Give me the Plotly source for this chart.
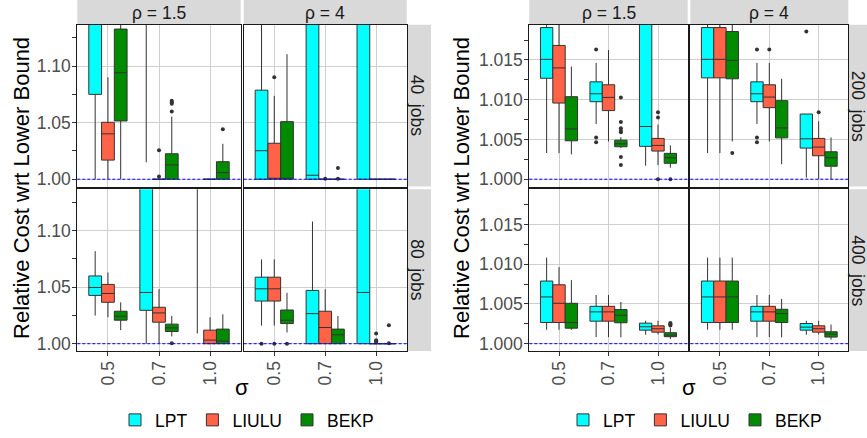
import plotly.graph_objects as go

# ---------------- data ----------------
SIGMA = ["0.5", "0.7", "1.0"]
ALGOS = ["LPT", "LIULU", "BEKP"]
COLORS = {"LPT": "#00FFFF", "LIULU": "#FF6347", "BEKP": "#008B00"}
RHO_LABELS = ["ρ = 1.5", "ρ = 4"]
JOBS_LEFT = ["40", "80"]
JOBS_RIGHT = ["200", "400"]
LOWER_BOUND = 1.0

# five-number summaries per sigma: (lower whisker, q1, median, q3, upper whisker)
# ---- 40 jobs, rho = 1.5
J40_R15_LPT = [(1.000, 1.075, 1.160, 1.220, 1.300), (1.015, 1.150, 1.200, 1.250, 1.300), (1.150, 1.180, 1.220, 1.260, 1.300)]
J40_R15_LIULU = [(1.000, 1.0169, 1.0401, 1.0503, 1.0901), (1.000, 1.000, 1.000, 1.000, 1.000), (1.000, 1.000, 1.000, 1.000, 1.000)]
J40_R15_BEKP = [(1.000, 1.0515, 1.0941, 1.1327, 1.200), (1.000, 1.000, 1.0126, 1.0225, 1.0553), (1.000, 1.000, 1.0059, 1.0155, 1.0313)]
J40_R15_LPT_OUT = [[], [], []]
J40_R15_LIULU_OUT = [[], [1.0023, 1.0257], []]
J40_R15_BEKP_OUT = [[], [1.0599, 1.0667, 1.0681, 1.0693], [1.0441]]
# ---- 40 jobs, rho = 4
J40_R4_LPT = [(1.000, 1.000, 1.0252, 1.0787, 1.200), (1.000, 1.000, 1.0035, 1.200, 1.300), (1.000, 1.000, 1.160, 1.220, 1.300)]
J40_R4_LIULU = [(1.000, 1.000, 1.000, 1.0318, 1.0737), (1.000, 1.000, 1.000, 1.000, 1.000), (1.000, 1.000, 1.000, 1.000, 1.000)]
J40_R4_BEKP = [(1.000, 1.000, 1.000, 1.0509, 1.1105), (1.000, 1.000, 1.000, 1.000, 1.000), (1.000, 1.000, 1.000, 1.000, 1.000)]
J40_R4_LPT_OUT = [[], [], []]
J40_R4_LIULU_OUT = [[1.0901], [1.0004], []]
J40_R4_BEKP_OUT = [[], [1.0004, 1.0099], []]
# ---- 80 jobs, rho = 1.5
J80_R15_LPT = [(1.0248, 1.0427, 1.0497, 1.0599, 1.0818), (1.000, 1.0295, 1.0453, 1.200, 1.300), (1.009, 1.150, 1.200, 1.250, 1.300)]
J80_R15_LIULU = [(1.0234, 1.0366, 1.0444, 1.0524, 1.0629), (1.000, 1.019, 1.0272, 1.0322, 1.0482), (1.000, 1.000, 1.0032, 1.012, 1.0234)]
J80_R15_BEKP = [(1.012, 1.0208, 1.0243, 1.0287, 1.0366), (1.0064, 1.0108, 1.014, 1.0173, 1.0246), (1.000, 1.000, 1.0023, 1.0129, 1.026)]
J80_R15_LPT_OUT = [[], [], []]
J80_R15_LIULU_OUT = [[], [], []]
J80_R15_BEKP_OUT = [[], [1.0003], []]
# ---- 80 jobs, rho = 4
J80_R4_LPT = [(1.016, 1.0377, 1.0485, 1.0588, 1.0745), (1.000, 1.000, 1.0266, 1.0471, 1.108), (1.000, 1.000, 1.0453, 1.200, 1.300)]
J80_R4_LIULU = [(1.016, 1.0377, 1.0485, 1.0588, 1.0745), (1.000, 1.000, 1.0143, 1.0287, 1.0482), (1.000, 1.000, 1.000, 1.000, 1.000)]
J80_R4_BEKP = [(1.0099, 1.0178, 1.0207, 1.0298, 1.045), (1.000, 1.000, 1.0079, 1.0129, 1.0246), (1.000, 1.000, 1.000, 1.000, 1.000)]
J80_R4_LPT_OUT = [[1.000], [], []]
J80_R4_LIULU_OUT = [[1.000], [], [1.0015, 1.002, 1.003, 1.009]]
J80_R4_BEKP_OUT = [[1.000], [], [1.0004, 1.0164]]
# ---- 200 jobs, rho = 1.5
J200_R15_LPT = [(1.00329, 1.0127, 1.01508, 1.01908, 1.025), (1.00695, 1.00975, 1.01075, 1.01225, 1.01463), (1.0017, 1.00413, 1.00663, 1.025, 1.030)]
J200_R15_LIULU = [(1.00329, 1.00958, 1.014, 1.01683, 1.025), (1.00475, 1.00863, 1.01029, 1.01188, 1.01625), (1.00179, 1.00354, 1.00425, 1.00513, 1.00688)]
J200_R15_BEKP = [(1.00313, 1.00483, 1.00633, 1.01038, 1.01416), (1.0039, 1.00408, 1.00445, 1.00491, 1.0053), (1.00145, 1.002, 1.0027, 1.00325, 1.00425)]
J200_R15_LPT_OUT = [[], [1.00466, 1.00525, 1.01633], []]
J200_R15_LIULU_OUT = [[], [], [1.000, 1.00775, 1.00841]]
J200_R15_BEKP_OUT = [[], [1.00179, 1.00279, 1.0059, 1.0061, 1.0064, 1.0072, 1.01029], [1.000]]
# ---- 200 jobs, rho = 4
J200_R4_LPT = [(1.00329, 1.01275, 1.01508, 1.01908, 1.025), (1.00695, 1.00975, 1.01075, 1.01225, 1.01463), (1.0002, 1.00391, 1.00508, 1.0082, 1.0082)]
J200_R4_LIULU = [(1.00329, 1.01275, 1.01508, 1.01908, 1.025), (1.00475, 1.009, 1.01033, 1.01188, 1.01463), (1.000, 1.00295, 1.00404, 1.00513, 1.00729)]
J200_R4_BEKP = [(1.00475, 1.01263, 1.01495, 1.01858, 1.025), (1.00188, 1.0052, 1.00645, 1.00988, 1.01263), (1.000, 1.00163, 1.0027, 1.00345, 1.00525)]
J200_R4_LPT_OUT = [[], [1.00466, 1.00525, 1.01633], [1.01858]]
J200_R4_LIULU_OUT = [[], [1.01633], [1.00841]]
J200_R4_BEKP_OUT = [[1.00329], [], []]
# ---- 400 jobs, rho = 1.5
J400_R15_LPT = [(1.00175, 1.00266, 1.00588, 1.00788, 1.01083), (1.00083, 1.00283, 1.004, 1.0047, 1.00613), (1.00113, 1.0017, 1.00213, 1.00258, 1.00288)]
J400_R15_LIULU = [(1.00175, 1.00266, 1.00508, 1.00741, 1.00963), (1.00083, 1.00283, 1.004, 1.0047, 1.00613), (1.00117, 1.00145, 1.00188, 1.00225, 1.00288)]
J400_R15_BEKP = [(1.00175, 1.00195, 1.00266, 1.00508, 1.008), (1.00079, 1.00263, 1.00358, 1.00429, 1.00525), (1.00058, 1.00088, 1.00108, 1.00138, 1.002)]
J400_R15_LPT_OUT = [[], [], []]
J400_R15_LIULU_OUT = [[], [], []]
J400_R15_BEKP_OUT = [[], [], [1.0023, 1.0024, 1.0025, 1.0026]]
# ---- 400 jobs, rho = 4
J400_R4_LPT = [(1.00175, 1.00266, 1.00588, 1.00788, 1.01083), (1.00083, 1.00283, 1.004, 1.0047, 1.00613), (1.00113, 1.0017, 1.00208, 1.00254, 1.00288)]
J400_R4_LIULU = [(1.00175, 1.00266, 1.00588, 1.00788, 1.01083), (1.00083, 1.00283, 1.004, 1.0047, 1.00613), (1.00117, 1.00145, 1.00188, 1.00225, 1.00288)]
J400_R4_BEKP = [(1.00175, 1.00266, 1.00588, 1.00788, 1.01083), (1.00079, 1.00266, 1.00379, 1.00433, 1.00563), (1.0005, 1.00083, 1.0012, 1.0015, 1.00241)]
J400_R4_LPT_OUT = [[], [], []]
J400_R4_LIULU_OUT = [[], [], []]
J400_R4_BEKP_OUT = [[], [], []]

# ---------------- layout helpers ----------------
W, H = 867, 438
FONT = "Liberation Sans, Arial, Helvetica, sans-serif"
TICK_GREY = "#4D4D4D"
STRIP_FILL = "#D9D9D9"
GRID = "#CFCFCF"


def fx(p):
    return p / W


def fy(p):
    return 1 - p / H


ROWS = [(25.0, 188.3), (191.0, 354.3)]
CHARTS = [
    dict(name="left", cols=[(77.3, 240.7), (243.7, 406.7)], yrange=[0.9935, 1.1365], dtick=0.05,
         fmt=".2f", minor=0.025, jobs=JOBS_LEFT, ytitle_x=22, legend="legend", legend_x=247,
         strip_r=(407.5, 431.0), strip_text_x=417,
         data={(0, 0): (J40_R15_LPT, J40_R15_LIULU, J40_R15_BEKP, J40_R15_LPT_OUT, J40_R15_LIULU_OUT, J40_R15_BEKP_OUT),
               (0, 1): (J40_R4_LPT, J40_R4_LIULU, J40_R4_BEKP, J40_R4_LPT_OUT, J40_R4_LIULU_OUT, J40_R4_BEKP_OUT),
               (1, 0): (J80_R15_LPT, J80_R15_LIULU, J80_R15_BEKP, J80_R15_LPT_OUT, J80_R15_LIULU_OUT, J80_R15_BEKP_OUT),
               (1, 1): (J80_R4_LPT, J80_R4_LIULU, J80_R4_BEKP, J80_R4_LPT_OUT, J80_R4_LIULU_OUT, J80_R4_BEKP_OUT)}),
    dict(name="right", cols=[(529.3, 687.7), (690.3, 848.3)], yrange=[0.99907, 1.01943], dtick=0.005,
         fmt=".3f", minor=0.0025, jobs=JOBS_RIGHT, ytitle_x=462, legend="legend2", legend_x=695,
         strip_r=(849.0, 867.0), strip_text_x=858,
         data={(0, 0): (J200_R15_LPT, J200_R15_LIULU, J200_R15_BEKP, J200_R15_LPT_OUT, J200_R15_LIULU_OUT, J200_R15_BEKP_OUT),
               (0, 1): (J200_R4_LPT, J200_R4_LIULU, J200_R4_BEKP, J200_R4_LPT_OUT, J200_R4_LIULU_OUT, J200_R4_BEKP_OUT),
               (1, 0): (J400_R15_LPT, J400_R15_LIULU, J400_R15_BEKP, J400_R15_LPT_OUT, J400_R15_LIULU_OUT, J400_R15_BEKP_OUT),
               (1, 1): (J400_R4_LPT, J400_R4_LIULU, J400_R4_BEKP, J400_R4_LPT_OUT, J400_R4_LIULU_OUT, J400_R4_BEKP_OUT)}),
]

fig = go.Figure()
layout = dict(shapes=[], annotations=[])
n = 0
for chart in CHARTS:
    for r, (rt, rb) in enumerate(ROWS):
        for c, (cl, cr) in enumerate(chart["cols"]):
            n += 1
            sfx = "" if n == 1 else str(n)
            xa, ya = "x" + sfx, "y" + sfx
            stats = chart["data"][(r, c)]
            for k, algo in enumerate(ALGOS):
                five = stats[k]
                outs = stats[k + 3]
                # every box carries its median as a (hidden, inside-whisker) sample so that
                # no sample row is empty; only points beyond the whiskers are drawn
                samples = [[s[2]] + list(o) for s, o in zip(five, outs)]
                fig.add_trace(go.Box(
                    x=SIGMA,
                    lowerfence=[s[0] for s in five], q1=[s[1] for s in five], median=[s[2] for s in five],
                    q3=[s[3] for s in five], upperfence=[s[4] for s in five],
                    y=samples, orientation="v",
                    name=algo, legendgroup=chart["name"] + algo, legend=chart["legend"],
                    showlegend=(r == 0 and c == 0),
                    alignmentgroup="panel" + str(n), offsetgroup=algo,
                    fillcolor=COLORS[algo], line=dict(color="#333333", width=1),
                    marker=dict(color="#333333", size=4, line=dict(width=0)),
                    boxpoints="outliers", pointpos=0, jitter=0, whiskerwidth=0,
                    xaxis=xa, yaxis=ya, hoverinfo="skip",
                ))
            layout["xaxis" + sfx] = dict(
                domain=[fx(cl), fx(cr)], anchor=ya, type="category", categoryorder="array",
                categoryarray=SIGMA, range=[-0.6, 2.6], showgrid=True, gridcolor=GRID, gridwidth=1,
                zeroline=False, showline=True, mirror=True, linecolor="#1A1A1A", linewidth=1,
                ticks="outside" if r == 1 else "", ticklen=4, tickcolor="#333333",
                showticklabels=(r == 1), tickangle=-90, ticklabelstandoff=-2,
                tickfont=dict(family=FONT, size=17.5, color=TICK_GREY),
            )
            layout["yaxis" + sfx] = dict(
                domain=[fy(rb), fy(rt)], anchor=xa, range=chart["yrange"], tick0=1.0,
                dtick=chart["dtick"], tickformat=chart["fmt"], showgrid=True, gridcolor=GRID,
                gridwidth=1, zeroline=False, showline=True, mirror=True, linecolor="#1A1A1A",
                linewidth=1, ticks="outside" if c == 0 else "", ticklen=4, tickcolor="#333333",
                showticklabels=(c == 0), ticklabelstandoff=-2,
                tickfont=dict(family=FONT, size=17.5, color=TICK_GREY),
                minor=dict(ticks="outside" if c == 0 else "", ticklen=4, tickcolor="#333333",
                           dtick=chart["minor"], tick0=1.0, showgrid=False),
            )
            # lower-bound reference line
            layout["shapes"].append(dict(
                type="line", xref=f"{xa} domain", x0=0, x1=1, yref=ya, y0=LOWER_BOUND, y1=LOWER_BOUND,
                line=dict(color="#0000FF", width=1, dash="3px,2px"), layer="above"))
            # top strips
            if r == 0:
                layout["shapes"].append(dict(type="rect", xref="paper", yref="paper", x0=fx(cl), x1=fx(cr),
                                             y0=fy(24.5), y1=fy(0), fillcolor=STRIP_FILL, line=dict(width=0),
                                             layer="below"))
                layout["annotations"].append(dict(
                    text=RHO_LABELS[c], xref="paper", yref="paper", x=fx((cl + cr) / 2), y=fy(13),
                    showarrow=False, xanchor="center", yanchor="middle",
                    font=dict(family=FONT, size=17.5, color="#1A1A1A")))
        # right strips
        s0, s1 = chart["strip_r"]
        layout["shapes"].append(dict(type="rect", xref="paper", yref="paper", x0=fx(s0), x1=fx(s1),
                                     y0=fy(rb), y1=fy(rt), fillcolor=STRIP_FILL, line=dict(width=0),
                                     layer="below"))
        layout["annotations"].append(dict(
            text=chart["jobs"][r] + "\u00a0 jobs", xref="paper", yref="paper",
            x=fx(chart["strip_text_x"]), y=fy((rt + rb) / 2), showarrow=False, textangle=90,
            xanchor="center", yanchor="middle", font=dict(family=FONT, size=17.5, color="#1A1A1A")))
    # axis titles
    cl0, cr1 = chart["cols"][0][0], chart["cols"][1][1]
    layout["annotations"].append(dict(
        text="Relative Cost wrt Lower Bound", xref="paper", yref="paper", x=fx(chart["ytitle_x"]),
        y=fy((ROWS[0][0] + ROWS[1][1]) / 2), showarrow=False, textangle=-90, xanchor="center",
        yanchor="middle", font=dict(family=FONT, size=22, color="#000000")))
    layout["annotations"].append(dict(
        text="σ", xref="paper", yref="paper", x=fx((cl0 + cr1) / 2), y=fy(391), showarrow=False,
        xanchor="center", yanchor="middle", font=dict(family=FONT, size=22, color="#000000")))
    layout[chart["legend"]] = dict(
        orientation="h", x=fx(chart["legend_x"]), xanchor="center", y=fy(424), yanchor="middle",
        bgcolor="rgba(0,0,0,0)", font=dict(family=FONT, size=17.5, color="#000000"),
        itemwidth=30, tracegroupgap=0, traceorder="normal")

fig.update_layout(
    width=W, height=H, margin=dict(l=0, r=0, t=0, b=0), paper_bgcolor="white", plot_bgcolor="white",
    boxmode="group", boxgap=0.25, boxgroupgap=0, font=dict(family=FONT), **layout)

# remove the browser's default 8px page margin so the figure sits at the window origin
fig.write_html("out.html", config={"displayModeBar": False},
               post_script="document.body.style.margin='0';")
